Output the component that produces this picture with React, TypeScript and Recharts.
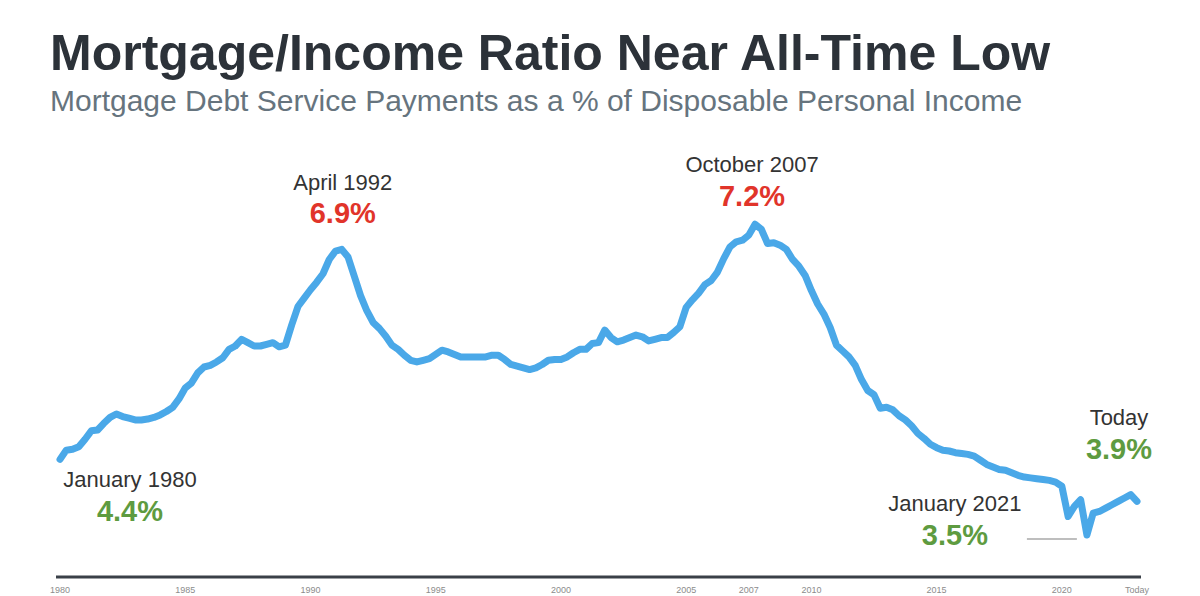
import React from 'react'
import { LineChart, Line, XAxis, YAxis, ReferenceDot } from 'recharts'

// Quarterly mortgage debt service ratio (% of disposable income), 1980 Q1 onward
const ratio = [
  4.40, 4.51, 4.52, 4.55, 4.64, 4.74, 4.75, 4.83, 4.90, 4.94,
  4.91, 4.89, 4.87, 4.87, 4.88, 4.90, 4.93, 4.97, 5.02, 5.12,
  5.25, 5.31, 5.43, 5.50, 5.52, 5.56, 5.61, 5.71, 5.75, 5.83,
  5.79, 5.75, 5.75, 5.77, 5.79, 5.74, 5.76, 6.00, 6.22, 6.32,
  6.42, 6.51, 6.61, 6.78, 6.88, 6.90, 6.81, 6.58, 6.35, 6.17,
  6.03, 5.96, 5.87, 5.76, 5.71, 5.64, 5.58, 5.56, 5.58, 5.60,
  5.65, 5.70, 5.68, 5.65, 5.62, 5.62, 5.62, 5.62, 5.62, 5.64,
  5.64, 5.59, 5.53, 5.51, 5.49, 5.47, 5.49, 5.53, 5.58, 5.59,
  5.59, 5.62, 5.67, 5.71, 5.71, 5.78, 5.79, 5.94, 5.85, 5.80,
  5.82, 5.85, 5.88, 5.86, 5.81, 5.83, 5.85, 5.85, 5.91, 5.98,
  6.21, 6.30, 6.38, 6.48, 6.53, 6.63, 6.79, 6.93, 6.99, 7.01,
  7.07, 7.20, 7.14, 6.97, 6.98, 6.95, 6.90, 6.78, 6.70, 6.59,
  6.41, 6.25, 6.13, 5.97, 5.76, 5.69, 5.62, 5.52, 5.35, 5.22,
  5.17, 5.01, 5.02, 4.99, 4.92, 4.87, 4.80, 4.71, 4.65, 4.58,
  4.54, 4.51, 4.50, 4.48, 4.47, 4.46, 4.44, 4.39, 4.34, 4.31,
  4.28, 4.27, 4.24, 4.21, 4.19, 4.18, 4.17, 4.16, 4.15, 4.13,
  4.08, 3.72, 3.84, 3.92, 3.50, 3.76, 3.78, 3.82, 3.86, 3.90,
  3.94, 3.98, 3.90,
]

const FIRST_YEAR = 1980
const quarters = ratio.map((_, i) => FIRST_YEAR + i / 4)

const tickYears = [1980, 1985, 1990, 1995, 2000, 2005, 2007.5, 2010, 2015, 2020, 2023]
const tickLabels = ['1980', '1985', '1990', '1995', '2000', '2005', '2007', '2010', '2015', '2020', 'Today']

// called-out quarters: index into ratio
const callouts = [
  { date: 'January 1980', at: 0, tone: 'low' },
  { date: 'April 1992', at: 45, tone: 'high' },
  { date: 'October 2007', at: 111, tone: 'high' },
  { date: 'January 2021', at: 164, tone: 'low' },
  { date: 'Today', at: 172, tone: 'low' },
]

const rows = ratio.map((v, i) => ({ t: quarters[i], v }))

const FONT = '"Liberation Sans", Arial, Helvetica, sans-serif'
const LINE_BLUE = '#4aa8e8'
const TONES: Record<string, string> = { high: '#e1342a', low: '#5e9b40' }

// where each callout's text sits relative to its point
const placement: Record<string, { dx: number; dateDy: number; valueDy: number; leader?: [number, number, number] }> = {
  'January 1980': { dx: 70, dateDy: 28, valueDy: 62 },
  'April 1992': { dx: 1, dateDy: -59, valueDy: -26 },
  'October 2007': { dx: -3, dateDy: -52, valueDy: -18 },
  'January 2021': { dx: -132, dateDy: -24, valueDy: 10, leader: [-60, -10, 4] },
  'Today': { dx: -18, dateDy: -76, valueDy: -42 },
}

function renderCallout(props: any, c: { date: string; at: number; tone: string }) {
  const vb = props.viewBox || {}
  const cx = vb.x + (vb.width || 0) / 2
  const cy = vb.y + (vb.height || 0) / 2
  const p = placement[c.date]
  return (
    <g>
      {p.leader && (
        <line
          x1={cx + p.leader[0]}
          x2={cx + p.leader[1]}
          y1={cy + p.leader[2]}
          y2={cy + p.leader[2]}
          stroke="#a9a9a9"
          strokeWidth={1.5}
        />
      )}
      <text x={cx + p.dx} y={cy + p.dateDy} textAnchor="middle" fontFamily={FONT} fontSize={22} fill="#333333">
        {c.date}
      </text>
      <text
        x={cx + p.dx}
        y={cy + p.valueDy}
        textAnchor="middle"
        fontFamily={FONT}
        fontSize={29}
        fontWeight="bold"
        fill={TONES[c.tone]}
      >
        {ratio[c.at].toFixed(1)}%
      </text>
    </g>
  )
}

export default function App() {
  return (
    <div style={{ position: 'absolute', left: 0, top: 0, width: 1200, height: 596, background: '#fff', fontFamily: FONT }}>
      <div
        style={{
          position: 'absolute',
          left: 50,
          top: 28,
          fontSize: 50,
          lineHeight: 1,
          fontWeight: 'bold',
          color: '#2c3239',
          whiteSpace: 'nowrap',
        }}
      >
        Mortgage/Income Ratio Near All-Time Low
      </div>
      <div
        style={{
          position: 'absolute',
          left: 50,
          top: 86,
          fontSize: 30,
          lineHeight: 1,
          color: '#66747e',
          whiteSpace: 'nowrap',
        }}
      >
        Mortgage Debt Service Payments as a % of Disposable Personal Income
      </div>
      <div style={{ position: 'absolute', left: 0, top: 0 }}>
        <LineChart width={1200} height={596} data={rows} margin={{ top: 199, right: 59, bottom: 0, left: 56 }}>
          <XAxis
            dataKey="t"
            type="number"
            domain={[1979.84, 2023.16]}
            allowDataOverflow
            ticks={tickYears}
            interval={0}
            tickFormatter={(t: number) => tickLabels[tickYears.indexOf(t)]}
            height={19}
            tickLine={false}
            tickMargin={4}
            axisLine={{ stroke: '#3a4048', strokeWidth: 3 }}
            tick={{ fontSize: 9, fill: '#8c8c8c', fontFamily: FONT }}
          />
          <YAxis hide type="number" domain={[3, 7.5]} allowDataOverflow />
          <Line
            type="linear"
            dataKey="v"
            stroke={LINE_BLUE}
            strokeWidth={7}
            strokeLinejoin="round"
            strokeLinecap="round"
            dot={false}
            activeDot={false}
            isAnimationActive={false}
          />
          {callouts.map((c) => (
            <ReferenceDot
              key={c.date}
              x={quarters[c.at]}
              y={ratio[c.at]}
              r={2}
              fill="none"
              stroke="none"
              label={(props: any) => renderCallout(props, c)}
            />
          ))}
        </LineChart>
      </div>
    </div>
  )
}
